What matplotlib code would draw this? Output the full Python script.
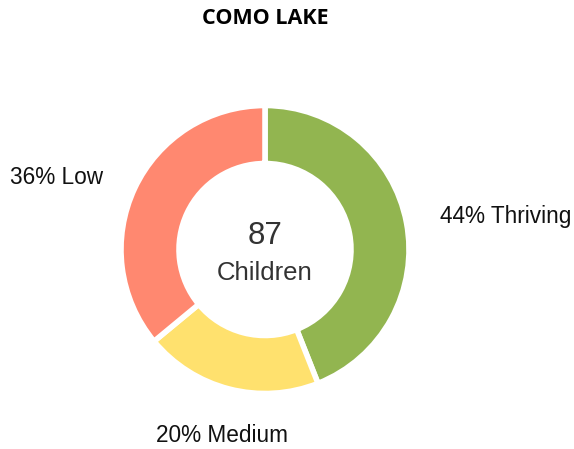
import matplotlib
matplotlib.use('Agg')
import matplotlib.pyplot as plt

# ---------------------------- data ----------------------------
title = 'COMO LAKE'
categories = ['Thriving', 'Medium', 'Low']
shares = [44, 20, 36]
colors = ['#92b550', '#ffe16e', '#ff8870']
total_children = 87

# ---------------------------- layout (pixel coords, y up) -----
W, H = 574, 449
cx, cy = 265, H - 249.5
r_out, r_in = 144, 86
label_xy = {'Thriving': (506, H - 216),
            'Medium': (222, H - 435),
            'Low': (57, H - 177)}

fig = plt.figure(figsize=(W / 100, H / 100), dpi=100)
ax = fig.add_axes([0, 0, 1, 1])

wedges, _ = ax.pie(shares, colors=colors, startangle=90, counterclock=False,
                   center=(cx, cy), radius=r_out,
                   wedgeprops=dict(width=r_out - r_in, edgecolor='white', linewidth=4))

for cat, val in zip(categories, shares):
    x, y = label_xy[cat]
    ax.text(x, y, '%d%% %s' % (val, cat), ha='center', va='center',
            fontsize=16.3, family='Liberation Sans', color='#111111')

ax.text(cx, cy + 13, str(total_children), ha='center', va='center',
        fontsize=22.5, family='Liberation Sans', color='#333333')
ax.text(cx, cy - 23, 'Children', ha='center', va='center',
        fontsize=18.5, family='Liberation Sans', color='#333333')

ax.text(W / 2 - 22, H - 19, title, ha='center', va='center',
        fontsize=15.5, fontweight='bold', family='Open Sans', color='#000000')

ax.set_xlim(0, W)
ax.set_ylim(0, H)
ax.set_aspect('auto')
ax.axis('off')

fig.savefig('out.png', dpi=100)
